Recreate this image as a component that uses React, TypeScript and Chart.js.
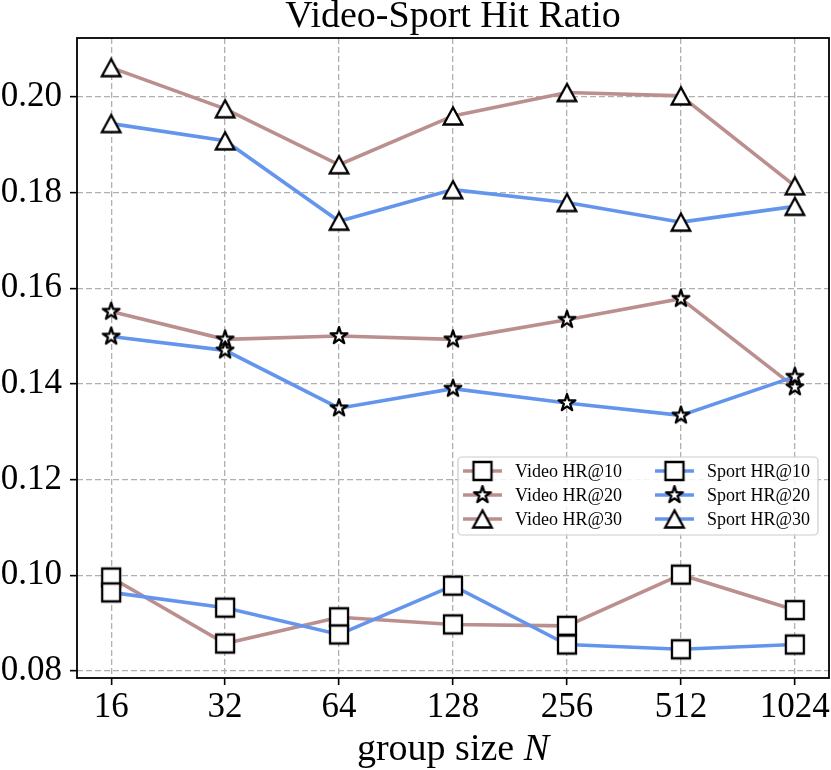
import { useEffect, useRef } from "react"
import { Chart, registerables } from "chart.js"

Chart.register(...registerables)

// x categories (group size N)
const groupSizes = ["16", "32", "64", "128", "256", "512", "1024"]
const yTicks = [0.08, 0.1, 0.12, 0.14, 0.16, 0.18, 0.2]

// hit ratio values
const videoHR10 = [0.0995, 0.0857, 0.0912, 0.0897, 0.0894, 0.1001, 0.0927]
const videoHR20 = [0.1551, 0.1493, 0.15, 0.1493, 0.1534, 0.1578, 0.1393]
const videoHR30 = [0.2061, 0.1975, 0.1858, 0.196, 0.2009, 0.2002, 0.1814]
const sportHR10 = [0.0964, 0.0932, 0.0876, 0.0978, 0.0855, 0.0845, 0.0855]
const sportHR20 = [0.1499, 0.147, 0.1349, 0.139, 0.136, 0.1334, 0.1415]
const sportHR30 = [0.1944, 0.1908, 0.174, 0.1806, 0.1779, 0.1738, 0.1771]

const BROWN = "#bc8f8f"
const BLUE = "#6495ed"
const SERIF = '"Liberation Serif", "Times New Roman", serif'

type MarkerKind = "square" | "star" | "triangle"

const series: { label: string; values: number[]; color: string; marker: MarkerKind }[] = [
  { label: "Video HR@10", values: videoHR10, color: BROWN, marker: "square" },
  { label: "Video HR@20", values: videoHR20, color: BROWN, marker: "star" },
  { label: "Video HR@30", values: videoHR30, color: BROWN, marker: "triangle" },
  { label: "Sport HR@10", values: sportHR10, color: BLUE, marker: "square" },
  { label: "Sport HR@20", values: sportHR20, color: BLUE, marker: "star" },
  { label: "Sport HR@30", values: sportHR30, color: BLUE, marker: "triangle" },
]

// white-filled, black-edged markers like matplotlib's 's', '*', '^'
function makeMarker(kind: MarkerKind) {
  const c = document.createElement("canvas")
  c.width = 28
  c.height = 28
  const ctx = c.getContext("2d")!
  const cx = 14
  const cy = 14
  ctx.fillStyle = "#ffffff"
  ctx.strokeStyle = "#000000"
  ctx.lineWidth = 2.3
  ctx.beginPath()
  if (kind === "square") {
    ctx.rect(cx - 9, cy - 9, 18, 18)
  } else if (kind === "triangle") {
    ctx.lineJoin = "miter"
    ctx.moveTo(cx, cy - 8.5)
    ctx.lineTo(cx - 9.3, cy + 8.5)
    ctx.lineTo(cx + 9.3, cy + 8.5)
    ctx.closePath()
  } else {
    ctx.lineJoin = "round"
    const R = 8.8
    const r = R * 0.382
    for (let i = 0; i < 10; i++) {
      const rad = (Math.PI / 5) * i
      const rr = i % 2 === 0 ? R : r
      const px = cx + Math.sin(rad) * rr
      const py = cy - Math.cos(rad) * rr
      if (i === 0) ctx.moveTo(px, py)
      else ctx.lineTo(px, py)
    }
    ctx.closePath()
  }
  ctx.fill()
  ctx.stroke()
  return c
}

export default function App() {
  const chartRef = useRef<HTMLCanvasElement>(null)
  const chartInstance = useRef<Chart | null>(null)

  useEffect(() => {
    if (!chartRef.current) return
    if (chartInstance.current) chartInstance.current.destroy()

    const markers: Record<MarkerKind, HTMLCanvasElement> = {
      square: makeMarker("square"),
      star: makeMarker("star"),
      triangle: makeMarker("triangle"),
    }

    const framePlugin = {
      id: "frame",
      afterDatasetsDraw(chart: Chart) {
        const { ctx, chartArea: a } = chart
        ctx.save()
        ctx.strokeStyle = "#000"
        ctx.lineWidth = 1.8
        ctx.strokeRect(a.left, a.top, a.right - a.left, a.bottom - a.top)
        ctx.restore()
      },
    }

    const textPlugin = {
      id: "texts",
      afterDraw(chart: Chart) {
        const { ctx, chartArea: a } = chart
        const mid = (a.left + a.right) / 2
        ctx.save()
        ctx.fillStyle = "#000"
        ctx.textBaseline = "alphabetic"

        // title
        ctx.font = `38px ${SERIF}`
        ctx.textAlign = "center"
        ctx.fillText("Video-Sport Hit Ratio", mid, a.top - 11)

        // x axis label with italic N
        ctx.textAlign = "left"
        ctx.font = `38px ${SERIF}`
        const part1 = "group size "
        const w1 = ctx.measureText(part1).width
        ctx.font = `italic 38px ${SERIF}`
        const w2 = ctx.measureText("N").width
        const x0 = mid - (w1 + w2) / 2
        ctx.font = `38px ${SERIF}`
        ctx.fillText(part1, x0, a.bottom + 82)
        ctx.font = `italic 38px ${SERIF}`
        ctx.fillText("N", x0 + w1, a.bottom + 82)

        // legend, two columns, inside lower right
        const boxRight = a.right - 11
        const boxBottom = a.bottom - 143
        const boxW = 360
        const boxH = 78
        const bx = boxRight - boxW
        const by = boxBottom - boxH
        ctx.beginPath()
        ctx.roundRect(bx, by, boxW, boxH, 4)
        ctx.fillStyle = "rgba(255,255,255,0.85)"
        ctx.fill()
        ctx.strokeStyle = "#cccccc"
        ctx.lineWidth = 1.2
        ctx.stroke()

        ctx.font = `18px ${SERIF}`
        ctx.textBaseline = "middle"
        series.forEach((s, i) => {
          const col = Math.floor(i / 3)
          const row = i % 3
          const lx = bx + 5 + col * 192
          const ly = by + 14 + row * 24
          ctx.strokeStyle = s.color
          ctx.lineWidth = 3.6
          ctx.beginPath()
          ctx.moveTo(lx, ly)
          ctx.lineTo(lx + 39, ly)
          ctx.stroke()
          const m = markers[s.marker]
          ctx.drawImage(m, lx + 19.5 - m.width / 2, ly - m.height / 2)
          ctx.fillStyle = "#000"
          ctx.fillText(s.label, lx + 52, ly + 1)
        })
        ctx.restore()
      },
    }

    const tickFont = { family: SERIF, size: 35 }
    const gridOpts = {
      color: "#b0b0b0",
      lineWidth: 1.3,
      tickColor: "#000",
      tickWidth: 1.6,
      tickLength: 7,
      tickBorderDash: [],
    }

    chartInstance.current = new Chart(chartRef.current, {
      type: "line",
      data: {
        datasets: series.map((s) => ({
          label: s.label,
          data: s.values.map((v, i) => ({ x: i, y: v })),
          borderColor: s.color,
          backgroundColor: s.color,
          borderWidth: 3.6,
          pointStyle: markers[s.marker],
          pointRadius: 10,
          tension: 0,
          order: s.color === BLUE ? 0 : 1,
        })),
      },
      options: {
        animation: false,
        responsive: true,
        maintainAspectRatio: false,
        layout: { autoPadding: false, padding: { top: 38, right: 2, left: 0, bottom: 0 } },
        plugins: {
          legend: { display: false },
          title: { display: false },
          tooltip: { enabled: false },
        },
        scales: {
          x: {
            type: "linear",
            min: -0.3,
            max: 6.3,
            afterBuildTicks: (axis: any) => {
              axis.ticks = groupSizes.map((_, i) => ({ value: i }))
            },
            afterFit: (axis: any) => {
              axis.height = 92
              axis.paddingLeft = 0
              axis.paddingRight = 0
            },
            ticks: {
              callback: (v: any) => groupSizes[Math.round(Number(v))],
              font: tickFont,
              color: "#000",
              padding: 2,
              maxRotation: 0,
              autoSkip: false,
            },
            grid: gridOpts,
            border: { display: false, dash: [6, 3] },
          },
          y: {
            type: "linear",
            min: 0.0785,
            max: 0.2123,
            afterBuildTicks: (axis: any) => {
              axis.ticks = yTicks.map((v) => ({ value: v }))
            },
            afterFit: (axis: any) => {
              axis.width = 77
              axis.paddingTop = 0
              axis.paddingBottom = 0
            },
            ticks: {
              callback: (v: any) => Number(v).toFixed(2),
              font: tickFont,
              color: "#000",
              padding: 8,
            },
            grid: gridOpts,
            border: { display: false, dash: [6, 3] },
          },
        },
      },
      plugins: [framePlugin, textPlugin],
    })

    return () => {
      if (chartInstance.current) {
        chartInstance.current.destroy()
        chartInstance.current = null
      }
    }
  }, [])

  return (
    <div style={{ position: "fixed", left: 0, top: 0, width: 831, height: 770, background: "#fff" }}>
      <canvas ref={chartRef} />
    </div>
  )
}
